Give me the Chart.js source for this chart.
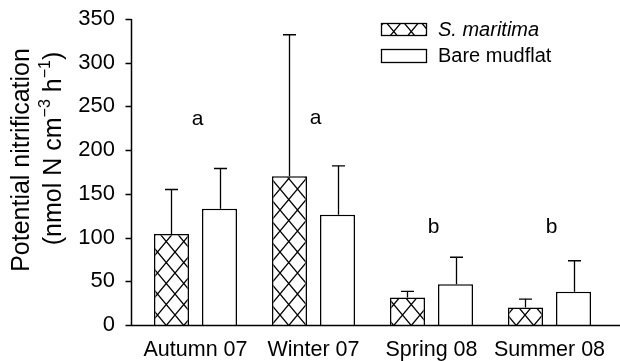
<!DOCTYPE html>
<html>
<head>
<meta charset="utf-8">
<script src="https://cdn.jsdelivr.net/npm/chart.js@4.4.1/dist/chart.umd.min.js"></script>
<style>
    html, body { margin: 0; padding: 0; background: #fff; }
    #wrap { width: 620px; height: 361px; }
</style>
</head>
<body>
<div id="wrap"><canvas id="nitrChart" width="620" height="361"></canvas></div>
<script>
// Datos (nmol N cm-3 h-1)
const seasons = ['Autumn 07', 'Winter 07', 'Spring 08', 'Summer 08'];
const seriesNames = ['S. maritima', 'Bare mudflat'];
const maritimaMean = [104, 170, 31.5, 20];
const maritimaErr = [51, 162, 7, 9.5];
const bareMean = [133, 126, 46.5, 38];
const bareErr = [46, 56, 31, 35.5];
const sigLetters = ['a', 'a', 'b', 'b'];
const sigHeights = [235, 237, 112, 112];
const yTicks = [0, 50, 100, 150, 200, 250, 300, 350];

const FONT = '"Liberation Sans", Arial, sans-serif';

// Patrón de rombos (cruzado) para S. maritima
function makeHatch() {
    const c = document.createElement('canvas');
    c.width = 35;
    c.height = 42;
    const g = c.getContext('2d');
    g.fillStyle = '#fff';
    g.fillRect(0, 0, 35, 42);
    g.strokeStyle = '#000';
    g.lineWidth = 1.3;
    g.beginPath();
    for (let k = -3; k <= 3; k++) {
        const x0 = k * 17.5;
        g.moveTo(x0, 0); g.lineTo(x0 + 35, 42);
        g.moveTo(x0, 0); g.lineTo(x0 - 35, 42);
    }
    g.stroke();
    return g.createPattern(c, 'repeat');
}
const hatch = makeHatch();

// Ejes, barras de error, letras, leyenda y título del eje Y
const decorPlugin = {
    id: 'decor',
    afterDatasetsDraw(chart) {
        const { ctx, chartArea, scales: { x, y } } = chart;
        ctx.save();
        ctx.strokeStyle = '#000';
        ctx.fillStyle = '#000';

        // barras de error (solo la parte superior)
        ctx.lineWidth = 1.3;
        chart.data.datasets.forEach((ds, di) => {
            chart.getDatasetMeta(di).data.forEach((bar, i) => {
                const top = y.getPixelForValue(ds.data[i] + ds.errors[i]);
                const bx = Math.round(bar.x) + 0.5;
                ctx.beginPath();
                ctx.moveTo(bx, bar.y);
                ctx.lineTo(bx, top);
                ctx.moveTo(bx - 6.5, top);
                ctx.lineTo(bx + 6.5, top);
                ctx.stroke();
            });
        });

        // ejes
        ctx.lineWidth = 1.5;
        const axisX = Math.round(chartArea.left - 5.5) + 0.5;
        const y0 = Math.round(y.getPixelForValue(0)) + 0.5;
        ctx.beginPath();
        ctx.moveTo(axisX, y.getPixelForValue(yTicks[yTicks.length - 1]));
        ctx.lineTo(axisX, y0);
        yTicks.forEach(v => {
            const py = Math.round(y.getPixelForValue(v)) + 0.5;
            ctx.moveTo(axisX - 6, py);
            ctx.lineTo(axisX, py);
        });
        ctx.moveTo(axisX, y0);
        ctx.lineTo(chart.width, y0);
        ctx.stroke();

        // letras de significancia
        ctx.font = '21px ' + FONT;
        ctx.textAlign = 'center';
        ctx.textBaseline = 'middle';
        sigLetters.forEach((t, i) => {
            ctx.fillText(t, x.getPixelForValue(i) + 2, y.getPixelForValue(sigHeights[i]));
        });

        // leyenda
        ctx.lineWidth = 1.3;
        ctx.fillStyle = hatch;
        ctx.fillRect(381, 23, 46, 12);
        ctx.strokeRect(381.5, 23.5, 45, 12);
        ctx.fillStyle = '#fff';
        ctx.fillRect(381, 49, 46, 13);
        ctx.strokeRect(381.5, 49.5, 45, 13);
        ctx.fillStyle = '#000';
        ctx.textAlign = 'left';
        ctx.font = 'italic 20px ' + FONT;
        ctx.fillText(seriesNames[0], 438, 30);
        ctx.font = '20px ' + FONT;
        ctx.fillText(seriesNames[1], 438, 56);

        // título del eje Y en dos líneas, con superíndices
        ctx.save();
        ctx.translate(22, 160);
        ctx.rotate(-Math.PI / 2);
        ctx.textAlign = 'center';
        ctx.font = '25px ' + FONT;
        ctx.fillText('Potential nitrification', 0, 0);
        ctx.restore();

        ctx.save();
        ctx.translate(54, 148.5);
        ctx.rotate(-Math.PI / 2);
        const parts = [['(nmol N cm', false], ['\u22123', true], [' h', false], ['\u22121', true], [')', false]];
        const big = '25px ' + FONT, small = '16px ' + FONT;
        let total = 0;
        parts.forEach(p => { ctx.font = p[1] ? small : big; total += ctx.measureText(p[0]).width; });
        let cx = -total / 2;
        ctx.textAlign = 'left';
        parts.forEach(p => {
            ctx.font = p[1] ? small : big;
            ctx.fillText(p[0], cx, p[1] ? -8 : 0);
            cx += ctx.measureText(p[0]).width;
        });
        ctx.restore();

        ctx.restore();
    }
};

const ctx = document.getElementById('nitrChart').getContext('2d');
const nitrChart = new Chart(ctx, {
    type: 'bar',
    data: {
        labels: seasons,
        datasets: [
            {
                label: seriesNames[0],
                data: maritimaMean,
                errors: maritimaErr,
                backgroundColor: hatch,
                borderColor: '#000',
                borderWidth: 1.5
            },
            {
                label: seriesNames[1],
                data: bareMean,
                errors: bareErr,
                backgroundColor: '#fff',
                borderColor: '#000',
                borderWidth: 1.5
            }
        ]
    },
    options: {
        responsive: false,
        animation: false,
        devicePixelRatio: 1,
        categoryPercentage: 0.8136,
        barPercentage: 0.729,
        layout: { padding: { top: 19, right: 11.5, left: 0, bottom: 0 } },
        plugins: {
            legend: { display: false },
            tooltip: { enabled: false }
        },
        scales: {
            x: {
                grid: { display: false, drawTicks: false },
                border: { display: false },
                ticks: { color: '#000', font: { family: FONT, size: 21.5 }, padding: 12 },
                afterFit: s => { s.height = 36; s.paddingLeft = 0; s.paddingRight = 0; }
            },
            y: {
                min: 0,
                max: 350,
                grid: { display: false, drawTicks: false },
                border: { display: false },
                ticks: { stepSize: 50, color: '#000', font: { family: FONT, size: 22 }, padding: 21.5 },
                afterFit: s => { s.width = 136.5; s.paddingTop = 0; s.paddingBottom = 0; }
            }
        }
    },
    plugins: [decorPlugin]
});
</script>
</body>
</html>
